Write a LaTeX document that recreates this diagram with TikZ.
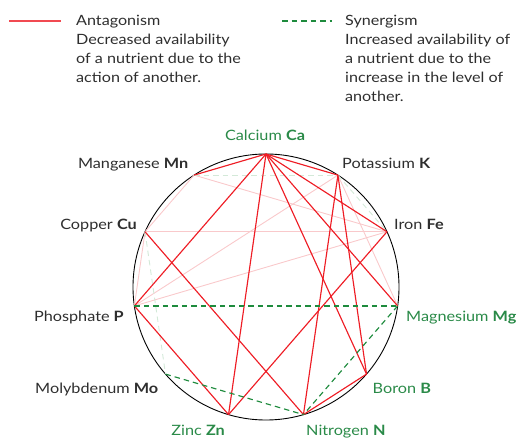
\documentclass[tikz,border=0pt]{standalone}
\usepackage{fontspec}
\setmainfont{Lato}[FakeStretch=1.14]
\usetikzlibrary{calc,positioning}
\definecolor{ink}{HTML}{2E2E2E}
\definecolor{antred}{HTML}{EE1D25}
\definecolor{antpink}{HTML}{F9C9CB}
\definecolor{syngreen}{HTML}{1E8B3D}
\definecolor{synpale}{HTML}{D3E9D8}
\definecolor{labelgreen}{HTML}{2A8A48}
\tikzset{
  elemlabel/.style={font=\fontsize{14.3}{17}\selectfont, text=ink, inner sep=0pt},
  greenlabel/.style={elemlabel, text=labelgreen},
  legendtext/.style={font=\fontsize{14.2}{19.1}\selectfont, text=ink, align=left, inner sep=0pt},
  ring/.style={draw=black, line width=0.9pt},
  antline/.style={draw=antred, line width=1.15pt},
  antfaint/.style={draw=antpink, line width=0.9pt},
  synline/.style={draw=syngreen, line width=1.15pt, dash pattern=on 5.5bp off 4bp},
  synfaint/.style={synline, draw=synpale, line width=0.9pt}
}
\begin{document}
\begin{tikzpicture}[x=1bp, y=1bp]
  \useasboundingbox (0,0) rectangle (519,-439);

  \coordinate (legA1) at (9,-21);
  \coordinate (legA2) at (61,-21);
  \coordinate (legS1) at (282,-21);
  \coordinate (legS2) at (332,-21);
  \draw[antline, draw=antred!80, line width=1.6bp] (legA1) -- (legA2);
  \draw[synline, line width=1.5bp] (legS1) -- (legS2);
  \node[legendtext, anchor=north west] (antag) at (76,-14.7)
    {Antagonism\\Decreased availability\\of a nutrient due to the\\action of another.};
  \node[legendtext, anchor=north west] (synerg) at (345,-14.7)
    {Synergism\\Increased availability of\\a nutrient due to the\\increase in the level of\\another.};

  \coordinate (o) at (266,-287);
  \draw[ring] (o) circle (133);

  \coordinate (ca) at ($(o)+(90:133)$);
  \coordinate (k)  at ($(o)+(57.27:133)$);
  \coordinate (fe) at ($(o)+(24.55:133)$);
  \coordinate (mg) at ($(o)+(-8.18:133)$);
  \coordinate (b)  at ($(o)+(-40.91:133)$);
  \coordinate (n)  at ($(o)+(-73.64:133)$);
  \coordinate (zn) at ($(o)+(-106.36:133)$);
  \coordinate (mo) at ($(o)+(-139.09:133)$);
  \coordinate (p)  at ($(o)+(-171.82:133)$);
  \coordinate (cu) at ($(o)+(155.45:133)$);
  \coordinate (mn) at ($(o)+(122.73:133)$);

  \draw[antfaint] (mn) -- (cu);
  \draw[antfaint] (mn) -- (fe);
  \draw[antfaint] (cu) -- (fe);
  \draw[antfaint] (cu) -- (p);
  \draw[antfaint] (fe) -- (p);
  \draw[antfaint] (k) -- (p);
  \draw[antfaint] (k) -- (mg);
  \draw[synfaint] (mn) -- (k);
  \draw[synfaint] (k) -- (fe);
  \draw[synfaint] (cu) -- (mo);

  \draw[antline] (ca) -- (mn);
  \draw[antline] (ca) -- (k);
  \draw[antline] (ca) -- (fe);
  \draw[antline] (ca) -- (mg);
  \draw[antline] (ca) -- (b);
  \draw[antline] (ca) -- (zn);
  \draw[antline] (ca) -- (p);
  \draw[antline] (k) -- (n);
  \draw[antline] (k) -- (b);
  \draw[antline] (fe) -- (zn);
  \draw[antline] (cu) -- (n);
  \draw[antline] (p) -- (zn);
  \draw[antline] (n) -- (b);

  \draw[synline, line width=1.6bp] (p) -- (mg);
  \draw[synline] (mg) -- (n);
  \draw[synline] (mo) -- (n);

  \node[greenlabel, anchor=base] (lca) at (265,-141) {Calcium \textbf{Ca}};
  \node[elemlabel, anchor=base east] (lmn) at (188.5,-168.5) {Manganese \textbf{Mn}};
  \node[elemlabel, anchor=base west] (lk) at (342,-168.5) {Potassium \textbf{K}};
  \node[elemlabel, anchor=base east] (lcu) at (137,-229.3) {Copper \textbf{Cu}};
  \node[elemlabel, anchor=base west] (lfe) at (394,-229.3) {Iron \textbf{Fe}};
  \node[elemlabel, anchor=base east] (lp) at (124,-321.7) {Phosphate \textbf{P}};
  \node[greenlabel, anchor=base west] (lmg) at (406,-321.7) {Magnesium \textbf{Mg}};
  \node[elemlabel, anchor=base east] (lmo) at (158.5,-393.3) {Molybdenum \textbf{Mo}};
  \node[greenlabel, anchor=base west] (lb) at (372.5,-393.3) {Boron \textbf{B}};
  \node[greenlabel, anchor=base east] (lzn) at (225,-435) {Zinc \textbf{Zn}};
  \node[greenlabel, anchor=base west] (ln) at (306,-435) {Nitrogen \textbf{N}};
\end{tikzpicture}
\end{document}
